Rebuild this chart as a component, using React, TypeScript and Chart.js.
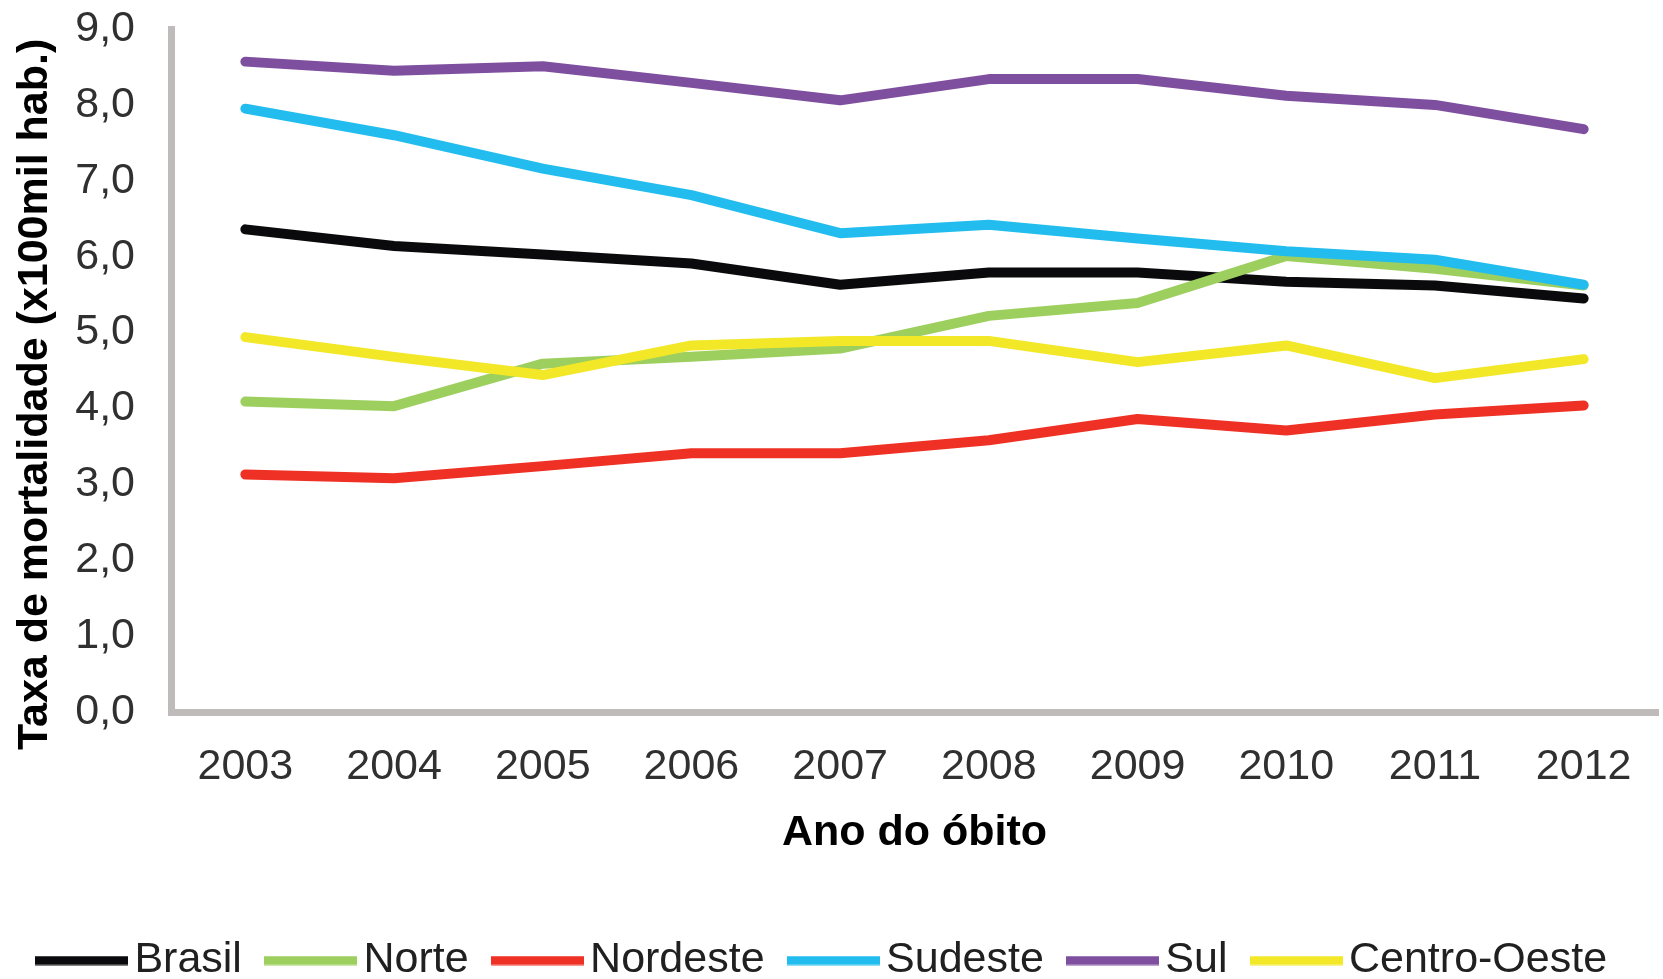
import React, { useEffect, useRef } from 'react';
import { Chart, registerables } from 'chart.js';

Chart.register(...registerables);

const years = ['2003', '2004', '2005', '2006', '2007', '2008', '2009', '2010', '2011', '2012'];
const seriesNames = ['Brasil', 'Norte', 'Nordeste', 'Sudeste', 'Sul', 'Centro-Oeste'];
const brasil = [6.36, 6.14, 6.03, 5.91, 5.63, 5.79, 5.79, 5.67, 5.62, 5.45];
const norte = [4.09, 4.03, 4.59, 4.68, 4.79, 5.22, 5.39, 6.01, 5.84, 5.62];
const nordeste = [3.13, 3.08, 3.24, 3.41, 3.41, 3.58, 3.86, 3.71, 3.92, 4.04];
const sudeste = [7.95, 7.6, 7.16, 6.81, 6.31, 6.42, 6.24, 6.07, 5.96, 5.63];
const sul = [8.57, 8.45, 8.51, 8.29, 8.06, 8.34, 8.34, 8.12, 8.0, 7.68];
const centroOeste = [4.94, 4.68, 4.44, 4.83, 4.89, 4.89, 4.61, 4.83, 4.4, 4.65];
const seriesColors = ['#0a0a0c', '#9dcf5f', '#ee3124', '#22bdee', '#7f4f9f', '#f2e828'];
const yTitle = 'Taxa de mortalidade (x100mil hab.)\u00a0\u00a0\u00a0\u00a0';
const xTitle = 'Ano do óbito';

const font = "'Liberation Sans', Arial, sans-serif";
const axisGrey = '#bfbbbb';

function legendSwatch(color: string): HTMLCanvasElement {
  const c = document.createElement('canvas');
  c.width = 93;
  c.height = 10;
  const ctx = c.getContext('2d')!;
  ctx.fillStyle = color;
  ctx.fillRect(0, 0.5, 93, 9);
  return c;
}

export default function App() {
  const ref = useRef<HTMLCanvasElement>(null);
  useEffect(() => {
    document.body.style.margin = '0';
    const values = [brasil, norte, nordeste, sudeste, sul, centroOeste];
    const swatches = seriesColors.map(legendSwatch);
    const chart = new Chart(ref.current!, {
      type: 'line',
      data: {
        labels: years,
        datasets: seriesNames.map((name, i) => ({
          label: name,
          data: values[i],
          borderColor: seriesColors[i],
          backgroundColor: seriesColors[i],
          borderWidth: 10,
          pointRadius: 0,
          tension: 0,
          borderCapStyle: 'round' as const,
          borderJoinStyle: 'round' as const,
          order: seriesNames.length - i,
        })),
      },
      options: {
        responsive: false,
        animation: false,
        devicePixelRatio: 1,
        layout: { padding: { top: 29, right: 5, left: 0, bottom: -13 } },
        scales: {
          x: {
            offset: true,
            grid: { display: false, drawTicks: false },
            border: { display: true, color: axisGrey, width: 7 },
            ticks: { color: '#303030', font: { family: font, size: 43 }, padding: 29, maxRotation: 0 },
            title: { display: true, text: xTitle, color: '#000', font: { family: font, size: 43, weight: 'bold' }, padding: { top: 0, bottom: 42 } },
            afterFit: (s: any) => { s.height = 189; s.paddingLeft = 0; s.paddingRight = 0; },
          },
          y: {
            min: 0,
            max: 9,
            grid: { display: false, drawTicks: false },
            border: { display: true, color: axisGrey, width: 7 },
            ticks: {
              stepSize: 1,
              color: '#303030',
              font: { family: font, size: 43 },
              padding: 36,
              callback: (v: any) => Number(v).toFixed(1).replace('.', ','),
            },
            title: { display: true, text: yTitle, color: '#000', font: { family: font, size: 43, weight: 'bold' }, padding: { top: 9, bottom: 0 } },
            afterFit: (s: any) => { s.width = 171; s.paddingTop = 0; s.paddingBottom = 0; },
          },
        },
        plugins: {
          tooltip: { enabled: false },
          legend: {
            position: 'bottom',
            labels: {
              usePointStyle: true,
              pointStyleWidth: 62,
              boxHeight: 10,
              padding: 38,
              color: '#202020',
              font: { family: font, size: 43 },
              sort: (a: any, b: any) => a.datasetIndex - b.datasetIndex,
              generateLabels: (c: any) => {
                const items = Chart.defaults.plugins.legend.labels.generateLabels(c);
                return items.map((it: any) => ({ ...it, lineWidth: 0, pointStyle: swatches[it.datasetIndex] }));
              },
            },
          },
        },
      },
    });
    return () => chart.destroy();
  }, []);
  return (
    <div style={{ width: 1663, height: 979, background: '#fff', overflow: 'hidden' }}>
      <canvas ref={ref} width={1663} height={979} style={{ display: 'block' }} />
    </div>
  );
}
